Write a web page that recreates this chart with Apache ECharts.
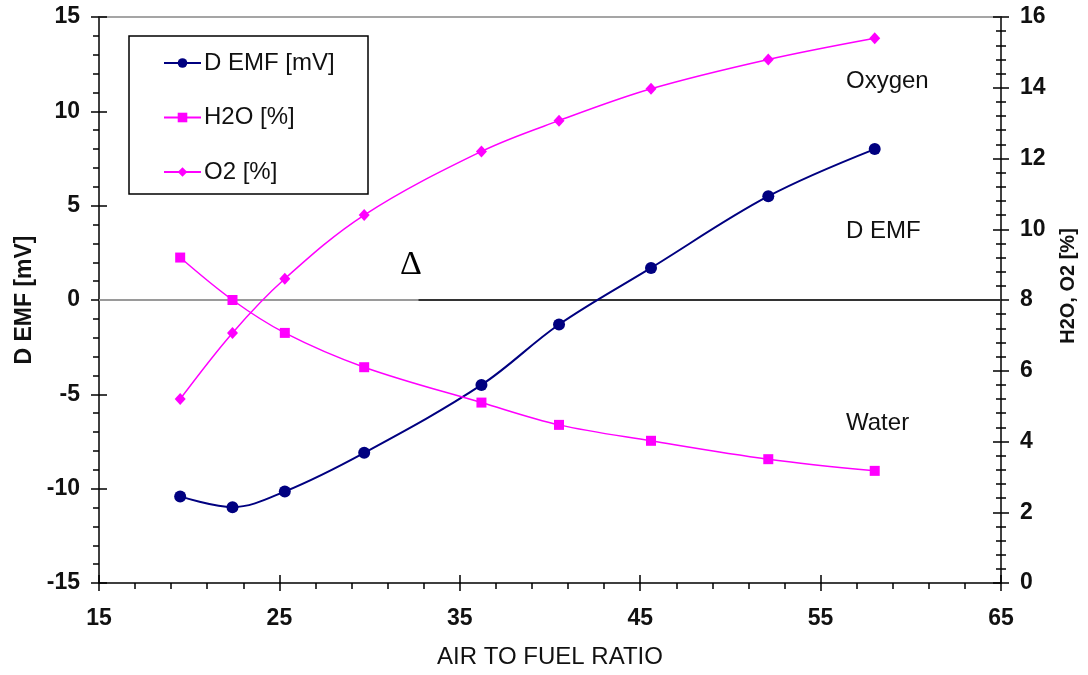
<!DOCTYPE html>
<html><head><meta charset="utf-8">
<script src="https://cdn.jsdelivr.net/npm/echarts@6/dist/echarts.min.js"></script>
<style>html,body{margin:0;padding:0;background:#fff}#c{width:1088px;height:675px}</style>
</head><body><div id="c"></div>
<script>
// ---- data ----
const airFuel = [19.5, 22.4, 25.3, 29.7, 36.2, 40.5, 45.6, 52.1, 58.0];
const deltaEmf = [-10.41, -10.98, -10.15, -8.1, -4.5, -1.3, 1.7, 5.5, 8.0];
const h2o = [9.2, 8.0, 7.07, 6.1, 5.1, 4.47, 4.02, 3.5, 3.17];
const o2 = [5.2, 7.07, 8.6, 10.4, 12.2, 13.07, 13.97, 14.8, 15.4];
const seriesNames = ['D EMF [mV]', 'H2O [%]', 'O2 [%]'];
const xRange = [15, 65];
const yLeftRange = [-15, 15];
const yRightRange = [0, 16];
const zeroLineSplit = 32.7;
const annotations = [
  {text: 'Oxygen', x: 846, y: 81},
  {text: 'D EMF', x: 846, y: 231},
  {text: 'Water', x: 846, y: 423}
];

const FONT = 'Liberation Sans';
const NAVY = '#000080';
const MAG = '#ff00ff';
const pairs = (ys) => airFuel.map((x, i) => [x, ys[i]]);

const chart = echarts.init(document.getElementById('c'), null, {renderer: 'canvas'});
const tickLbl = {fontFamily: FONT, fontSize: 23, fontWeight: 'bold', color: '#111'};

chart.setOption({
  animation: false,
  backgroundColor: '#fff',
  grid: {left: 99, right: 87, top: 17, bottom: 92, containLabel: false},
  legend: {
    orient: 'vertical', left: 163, top: 51, padding: 0,
    itemWidth: 37, itemHeight: 12, itemGap: 30.5,
    textStyle: {fontFamily: FONT, fontSize: 24, color: '#111', padding: [0, 0, 0, -2]},
    data: seriesNames
  },
  graphic: [
    {type: 'rect', shape: {x: 129, y: 36, width: 239, height: 158},
     style: {fill: '#fff', stroke: '#000', lineWidth: 1.5}, z: 0},
    ...annotations.map(a => ({type: 'text', x: a.x, y: a.y,
      style: {text: a.text, font: '24px "' + FONT + '"', fill: '#111', verticalAlign: 'middle', align: 'left'}})),
    {type: 'text', x: 411, y: 265,
     style: {text: 'Δ', font: '34px "Liberation Serif"', fill: '#000', verticalAlign: 'middle', align: 'center'}}
  ],
  xAxis: [
    {type: 'value', min: xRange[0], max: xRange[1], interval: 10, position: 'bottom',
     name: 'AIR TO FUEL RATIO', nameLocation: 'middle', nameGap: 62,
     nameTextStyle: {fontFamily: FONT, fontSize: 24, color: '#111'},
     axisLine: {show: true, onZero: false, lineStyle: {color: '#000', width: 1.5}},
     axisTick: {show: true, inside: false, length: 8, lineStyle: {color: '#000', width: 1.5}},
     minorTick: {show: true, splitNumber: 5, length: 6, lineStyle: {color: '#000', width: 1.5}},
     axisLabel: Object.assign({margin: 24}, tickLbl),
     splitLine: {show: false}},
    {type: 'value', min: xRange[0], max: xRange[1], interval: 10, position: 'bottom',
     axisLine: {show: false, onZero: false}, axisLabel: {show: false}, splitLine: {show: false},
     axisTick: {show: true, inside: true, length: 8, lineStyle: {color: '#000', width: 1.5}}},
    {type: 'value', min: xRange[0], max: xRange[1], position: 'top',
     axisLine: {show: true, onZero: false, lineStyle: {color: '#888', width: 1.5}},
     axisTick: {show: false}, axisLabel: {show: false}, splitLine: {show: false}}
  ],
  yAxis: [
    {type: 'value', min: yLeftRange[0], max: yLeftRange[1], interval: 5, position: 'left',
     name: 'D EMF [mV]', nameLocation: 'middle', nameGap: 63, nameRotate: 90,
     nameTextStyle: {fontFamily: FONT, fontSize: 23, fontWeight: 'bold', color: '#111'},
     axisLine: {show: true, onZero: false, lineStyle: {color: '#000', width: 1.5}},
     axisTick: {show: true, inside: false, length: 8, lineStyle: {color: '#000', width: 1.5}},
     minorTick: {show: true, splitNumber: 5, length: 6, lineStyle: {color: '#000', width: 1.5}},
     axisLabel: Object.assign({margin: 19}, tickLbl),
     splitLine: {show: false}},
    {type: 'value', min: yRightRange[0], max: yRightRange[1], interval: 2, position: 'right',
     name: 'H2O, O2 [%]', nameLocation: 'middle', nameGap: 57, nameRotate: 90,
     nameTextStyle: {fontFamily: FONT, fontSize: 20, fontWeight: 'bold', color: '#111', padding: [0, 0, 0, 28]},
     axisLine: {show: true, onZero: false, lineStyle: {color: '#000', width: 1.5}},
     axisTick: {show: true, inside: false, length: 8, lineStyle: {color: '#000', width: 1.5}},
     minorTick: {show: true, splitNumber: 5, length: 5, lineStyle: {color: '#000', width: 1.5}},
     axisLabel: Object.assign({margin: 19}, tickLbl),
     splitLine: {show: false}},
    {type: 'value', min: yLeftRange[0], max: yLeftRange[1], interval: 5, position: 'left',
     axisLine: {show: false, onZero: false}, axisLabel: {show: false}, splitLine: {show: false},
     axisTick: {show: true, inside: true, length: 8, lineStyle: {color: '#000', width: 1.5}}},
    {type: 'value', min: yRightRange[0], max: yRightRange[1], interval: 2, position: 'right',
     axisLine: {show: false, onZero: false}, axisLabel: {show: false}, splitLine: {show: false},
     axisTick: {show: true, inside: true, length: 8, lineStyle: {color: '#000', width: 1.5}},
     minorTick: {show: true, splitNumber: 5, length: 5, lineStyle: {color: '#000', width: 1.5}}}
  ],
  series: [
    {name: seriesNames[0], type: 'line', xAxisIndex: 0, yAxisIndex: 0, data: pairs(deltaEmf),
     smooth: 0.35, symbol: 'circle', symbolSize: 12,
     lineStyle: {color: NAVY, width: 2}, itemStyle: {color: NAVY},
     markLine: {silent: true, symbol: 'none', label: {show: false}, z: 1,
       data: [
         [{coord: [xRange[0], 0], lineStyle: {color: '#9a9a9a', width: 2, type: 'solid'}}, {coord: [zeroLineSplit, 0]}],
         [{coord: [zeroLineSplit, 0], lineStyle: {color: '#333', width: 2, type: 'solid'}}, {coord: [xRange[1], 0]}]
       ]}},
    {name: seriesNames[1], type: 'line', xAxisIndex: 0, yAxisIndex: 1, data: pairs(h2o),
     smooth: 0.35, symbol: 'rect', symbolSize: 10,
     lineStyle: {color: MAG, width: 1.5}, itemStyle: {color: MAG}},
    {name: seriesNames[2], type: 'line', xAxisIndex: 0, yAxisIndex: 1, data: pairs(o2),
     smooth: 0.35, symbol: 'diamond', symbolSize: [11, 12],
     lineStyle: {color: MAG, width: 1.5}, itemStyle: {color: MAG}}
  ]
});
</script>
</body></html>
